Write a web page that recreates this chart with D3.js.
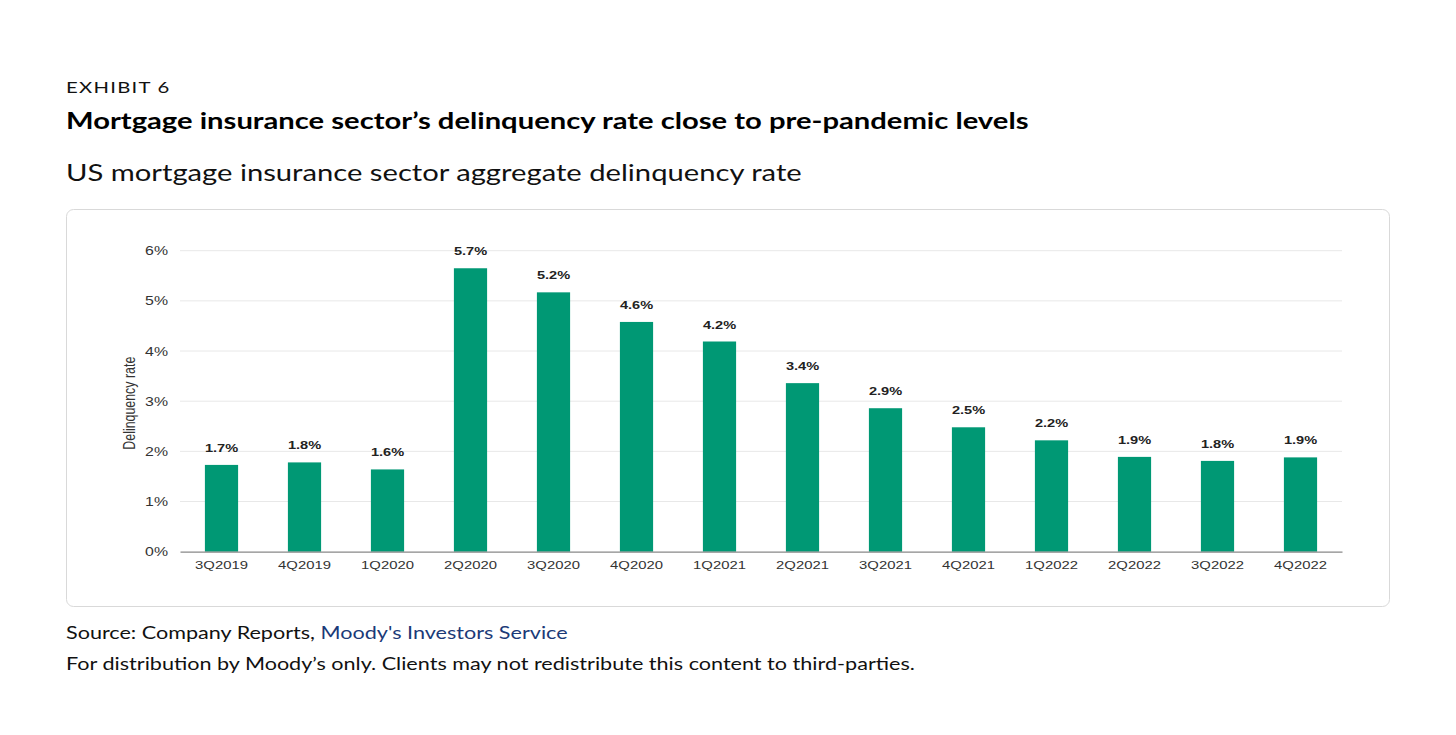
<!DOCTYPE html>
<html>
<head>
<meta charset="utf-8">
<script src="https://cdn.jsdelivr.net/npm/d3@7"></script>
<style>
  body { margin: 0; background: #fff; }
</style>
</head>
<body>
<div id="chart"></div>
<script>
const quarters = ['3Q2019', '4Q2019', '1Q2020', '2Q2020', '3Q2020', '4Q2020', '1Q2021',
  '2Q2021', '3Q2021', '4Q2021', '1Q2022', '2Q2022', '3Q2022', '4Q2022'];
const rates = [1.73, 1.78, 1.64, 5.65, 5.17, 4.58, 4.19, 3.36, 2.86, 2.48, 2.22, 1.89, 1.81, 1.88];
const rateLabels = ['1.7%', '1.8%', '1.6%', '5.7%', '5.2%', '4.6%', '4.2%',
  '3.4%', '2.9%', '2.5%', '2.2%', '1.9%', '1.8%', '1.9%'];
const yTicks = [0, 1, 2, 3, 4, 5, 6];

const width = 1456;
const height = 735;
const plot = { left: 180, right: 1342, top: 250.7, bottom: 551.7 };
const sx = 1.27; // the exhibit's glyphs are stretched horizontally

const svg = d3.select('#chart')
  .append('svg')
  .attr('width', width)
  .attr('height', height);

function label(px, py, txt) {
  return svg.append('text')
    .attr('transform', `translate(${px},${py}) scale(${sx},1)`)
    .style('font-family', 'Lato, sans-serif')
    .attr('fill', '#111')
    .text(txt);
}

// Header text
label(66, 93, 'EXHIBIT 6')
  .style('font-size', '16px')
  .style('letter-spacing', '1px');

label(66, 129, 'Mortgage insurance sector\u2019s delinquency rate close to pre-pandemic levels')
  .style('font-weight', 'bold')
  .style('font-size', '23px')
  .attr('fill', '#000');

label(66, 181, 'US mortgage insurance sector aggregate delinquency rate')
  .style('font-size', '23px');

// Chart frame
svg.append('rect')
  .attr('x', 66.5).attr('y', 209.5)
  .attr('width', 1323).attr('height', 397)
  .attr('rx', 7)
  .attr('fill', '#fff')
  .attr('stroke', '#d9d9d9');

const x = d3.scaleBand()
  .domain(quarters)
  .range([plot.left, plot.right])
  .paddingInner(0.6)
  .paddingOuter(0.3);

const y = d3.scaleLinear()
  .domain([0, 6])
  .range([plot.bottom, plot.top]);

// Gridlines
svg.append('g')
  .selectAll('line')
  .data(yTicks.slice(1))
  .join('line')
  .attr('x1', plot.left).attr('x2', plot.right)
  .attr('y1', d => y(d)).attr('y2', d => y(d))
  .attr('stroke', '#e8e8e8')
  .attr('stroke-width', 1);

// Y axis labels
const yAxis = svg.append('g')
  .attr('transform', `translate(${plot.left - 12},0)`)
  .call(d3.axisLeft(y).tickValues(yTicks).tickFormat(d => d + '%').tickSize(0).tickPadding(0));
yAxis.select('.domain').remove();
yAxis.selectAll('text')
  .attr('x', 0)
  .attr('transform', `scale(${sx},1)`)
  .style('font-family', 'Liberation Sans, Arial, sans-serif')
  .style('font-size', '12.5px')
  .attr('fill', '#333');

svg.append('text')
  .attr('transform', `translate(135,${(plot.top + plot.bottom) / 2 + 2}) scale(${sx},1) rotate(-90)`)
  .attr('text-anchor', 'middle')
  .style('font-family', 'Liberation Sans, Arial, sans-serif')
  .style('font-size', '12.4px')
  .attr('fill', '#333')
  .text('Delinquency rate');

// Bars
svg.append('g')
  .selectAll('rect')
  .data(quarters)
  .join('rect')
  .attr('x', d => x(d))
  .attr('y', (d, i) => y(rates[i]))
  .attr('width', x.bandwidth())
  .attr('height', (d, i) => y(0) - y(rates[i]))
  .attr('fill', '#009874');

// Value labels
svg.append('g')
  .selectAll('text')
  .data(quarters)
  .join('text')
  .attr('transform', (d, i) => `translate(${x(d) + x.bandwidth() / 2},${y(rates[i]) - 13}) scale(${sx},1)`)
  .attr('text-anchor', 'middle')
  .style('font-family', 'Liberation Sans, Arial, sans-serif')
  .style('font-weight', 'bold')
  .style('font-size', '11.5px')
  .attr('fill', '#222')
  .text((d, i) => rateLabels[i]);

// X axis
const xAxis = svg.append('g')
  .attr('transform', `translate(0,${plot.bottom})`)
  .call(d3.axisBottom(x).tickSize(0).tickPadding(9));
xAxis.select('.domain')
  .attr('stroke', '#888')
  .attr('stroke-width', 1.3);
xAxis.selectAll('text')
  .attr('transform', `scale(${sx},1)`)
  .style('font-family', 'Liberation Sans, Arial, sans-serif')
  .style('font-size', '11.7px')
  .attr('fill', '#333');

// Footnotes
const src = label(66, 639, '')
  .style('font-size', '17px');
src.append('tspan').text('Source: Company Reports, ');
src.append('tspan').attr('fill', '#1b3a78').text('Moody\'s Investors Service');

label(66, 670, 'For distribution by Moody\u2019s only. Clients may not redistribute this content to third-parties.')
  .style('font-size', '17px');
</script>
</body>
</html>
